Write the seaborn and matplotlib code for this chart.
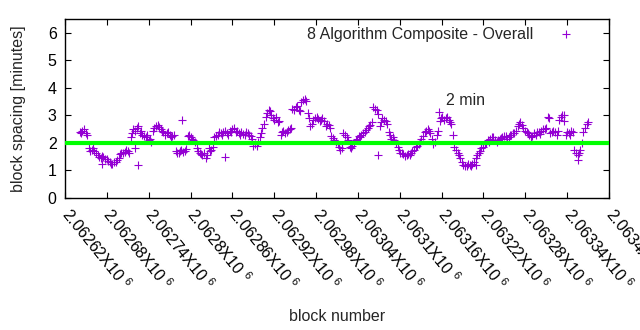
import numpy as np
import pandas as pd
import matplotlib
matplotlib.use("Agg")
import matplotlib.pyplot as plt
import seaborn as sns

# ---- data ----
first_block = 2062641
block_step = 4.3
spacing_minutes = [
    2.40, 2.45, 2.35, 1.80, 1.75, 1.70, 1.55, 1.45, 1.50, 1.40,
    1.30, 1.25, 1.30, 1.45, 1.65, 1.68, 1.70, 2.20, 2.50, 2.55,
    2.35, 2.30, 2.20, 2.10, 2.05, 2.55, 2.65, 2.50, 2.40, 2.35,
    2.30, 2.25, 1.70, 1.65, 1.75, 1.70, 2.25, 2.20, 2.10, 1.80,
    1.65, 1.55, 1.45, 1.80, 1.75, 2.20, 2.30, 2.35, 2.40, 2.35,
    2.45, 2.50, 2.40, 2.35, 2.40, 2.30, 2.35, 2.25, 1.90, 1.90,
    2.20, 2.55, 2.95, 3.20, 3.00, 2.85, 2.75, 2.30, 2.45, 2.40,
    2.50, 3.25, 3.30, 3.20, 3.50, 3.58, 3.10, 2.60, 2.85, 2.95,
    2.80, 2.90, 2.60, 2.65, 2.25, 2.10, 1.95, 1.75, 2.35, 2.20,
    1.85, 1.90, 2.10, 2.25, 2.30, 2.40, 2.55, 2.65, 3.30, 3.20,
    2.60, 2.90, 2.80, 2.40, 2.15, 2.10, 1.85, 1.65, 1.60, 1.55,
    1.55, 1.70, 1.85, 1.95, 2.15, 2.40, 2.50, 2.35, 1.95, 2.30,
    2.80, 2.95, 2.90, 2.85, 2.70, 1.85, 1.65, 1.45, 1.20, 1.15,
    1.20, 1.25, 1.45, 1.65, 1.80, 1.95, 2.10, 2.15, 2.20, 2.05,
    2.15, 2.20, 2.25, 2.20, 2.30, 2.35, 2.60, 2.75, 2.55, 2.40,
    2.30, 2.25, 2.30, 2.40, 2.45, 2.50, 2.95, 2.35, 2.45, 2.30,
    2.85, 3.00, 2.30, 2.35, 2.45, 1.75, 1.55, 1.75, 2.40, 2.70,
]
# blocks in between (offset by half a step)
spacing_minutes_mid = [
    2.35, 2.50, 2.30, 1.72, 1.80, 1.62, 1.48, 1.52, 1.42, 1.35,
    1.22, 1.32, 1.38, 1.58, 1.62, 1.75, 1.65, 2.35, 2.42, 2.62,
    2.42, 2.25, 2.28, 2.15, 2.45, 2.62, 2.58, 2.45, 2.30, 2.40,
    2.22, 2.30, 1.62, 1.72, 1.68, 1.78, 2.30, 2.15, 2.02, 1.72,
    1.60, 1.62, 1.55, 1.70, 1.85, 2.25, 2.38, 2.28, 2.45, 2.30,
    2.40, 2.55, 2.45, 2.30, 2.32, 2.38, 2.28, 2.15, 1.95, 2.05,
    2.35, 2.70, 3.10, 3.15, 2.92, 2.95, 2.80, 2.40, 2.35, 2.48,
    2.55, 3.20, 3.35, 3.15, 3.55, 3.52, 2.90, 2.70, 2.90, 2.88,
    2.85, 2.78, 2.70, 2.55, 2.18, 2.05, 1.85, 1.82, 2.28, 2.10,
    1.80, 1.98, 2.15, 2.20, 2.35, 2.48, 2.60, 2.75, 3.25, 3.05,
    2.75, 2.85, 2.70, 2.30, 2.20, 2.00, 1.75, 1.62, 1.52, 1.60,
    1.62, 1.75, 1.90, 2.05, 2.25, 2.45, 2.42, 2.15, 2.05, 2.45,
    2.90, 2.85, 2.95, 2.75, 2.30, 1.75, 1.55, 1.30, 1.18, 1.22,
    1.15, 1.32, 1.55, 1.72, 1.85, 2.00, 2.05, 2.22, 2.12, 2.10,
    2.18, 2.25, 2.15, 2.28, 2.35, 2.45, 2.70, 2.65, 2.45, 2.35,
    2.20, 2.35, 2.38, 2.32, 2.50, 2.55, 2.90, 2.40, 2.38, 2.42,
    2.95, 2.80, 2.40, 2.30, 2.38, 1.62, 1.65, 2.00, 2.55, 2.75,
]
extra_blocks = [2062720, 2062673, 2062725, 2062788, 2062849, 2063069, 2063156, 2063210, 2063356, 2063336]
extra_minutes = [1.82, 1.22, 1.20, 2.84, 1.50, 1.56, 3.14, 1.20, 1.38, 3.00]
target_minutes = 2.0
x_min, x_max, x_step = 2062620, 2063400, 60
y_ticks = [0, 1, 2, 3, 4, 5, 6]

idx = np.arange(len(spacing_minutes))
blocks = np.round(first_block + block_step * idx)
blocks_mid = np.round(first_block + block_step * (idx + 0.5))
df = pd.DataFrame({
    "block": np.concatenate([blocks, blocks_mid, extra_blocks]),
    "minutes": np.concatenate([spacing_minutes, spacing_minutes_mid, extra_minutes]),
})

sns.set_theme(style="ticks")
plt.rcParams["font.family"] = ["Liberation Sans", "DejaVu Sans"]
plt.rcParams["mathtext.fontset"] = "custom"
plt.rcParams["mathtext.rm"] = "Liberation Sans"
plt.rcParams["mathtext.it"] = "Liberation Sans"

FS = 11.5
fig = plt.figure(figsize=(6.4, 3.3), dpi=100)
ax = fig.add_axes([65 / 640, 1 - 198 / 330, 544 / 640, 179 / 330])

purple = "#9400d3"
sns.scatterplot(data=df, x="block", y="minutes", marker="+", s=30,
                color=purple, linewidth=0.8, ax=ax,
                label="8 Algorithm Composite - Overall", zorder=2)
ax.plot([x_min, x_max], [target_minutes, target_minutes], color="#00ff00",
        lw=3, zorder=3, solid_capstyle="butt")
ax.text(2063166, 3.53, "2 min", fontsize=FS, ha="left", va="center")

ax.set_xlim(x_min, x_max)
ax.set_ylim(0, 6.5)
xt = np.arange(x_min, x_max + 1, x_step)
ax.set_xticks(xt)
ax.set_xticklabels([f"{v / 1e6:g}X10 $^{{6}}$" for v in xt],
                   rotation=-51, ha="left", va="center", rotation_mode="anchor")
ax.set_yticks(y_ticks)
ax.tick_params(axis="both", direction="in", length=4, width=0.8,
               labelsize=FS, colors="black")
ax.tick_params(axis="y", right=True, pad=6)
ax.tick_params(axis="x", top=True, pad=9)
for s in ax.spines.values():
    s.set_visible(True)
    s.set_color("black")
    s.set_linewidth(1)
ax.set_xlabel("block number", fontsize=FS)
ax.xaxis.set_label_coords(0.50, -0.62)
ax.set_ylabel("block spacing [minutes]", fontsize=FS)
ax.yaxis.set_label_coords(-0.072, 0.5)

leg = ax.legend(loc="upper right", frameon=False, markerfirst=False,
                fontsize=FS, bbox_to_anchor=(0.97, 1.02),
                handletextpad=1.05, borderaxespad=0.3)

fig.savefig("out.png", dpi=100)
